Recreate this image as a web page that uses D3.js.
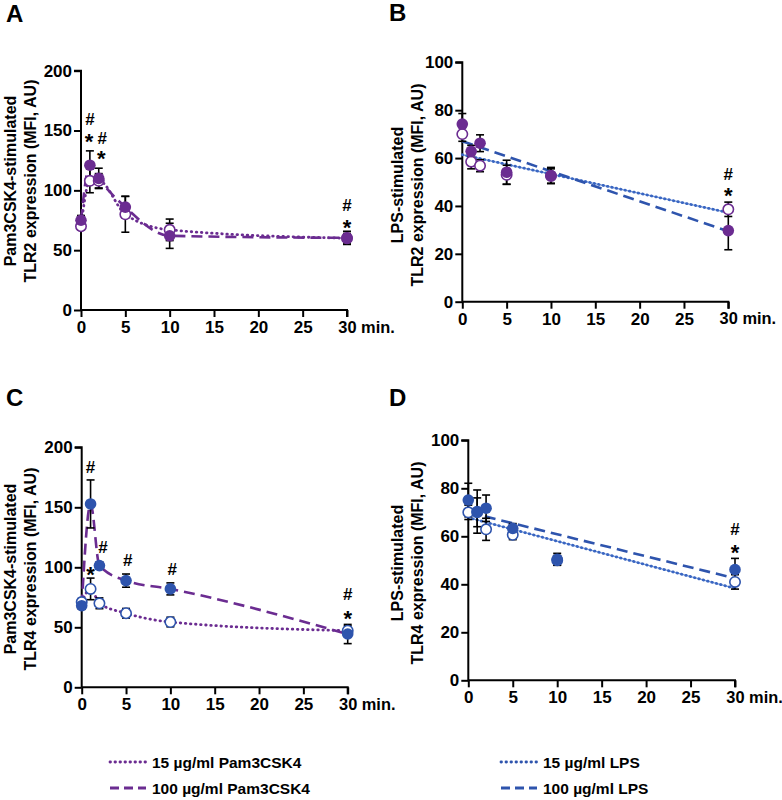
<!DOCTYPE html>
<html>
<head>
<meta charset="utf-8">
<script src="https://cdn.jsdelivr.net/npm/d3@7"></script>
<style>
  html, body { margin: 0; padding: 0; background: #fff; }
  svg { display: block; }
  text { font-family: "Liberation Sans", Arial, sans-serif; font-weight: bold; fill: #000; }
</style>
</head>
<body>
<svg id="chart" width="782" height="800"></svg>
<script>
// ---------------- DATA ----------------
const times = [0, 1, 2, 5, 10, 30];
const fitTimes = [0, 30];
const xTicks = [0, 5, 10, 15, 20, 25, 30];
const yTicksPam = [0, 50, 100, 150, 200];
const yTicksLps = [0, 20, 40, 60, 80, 100];

// A: TLR2, Pam3CSK4-stimulated
const tlr2PamLow = [70, 108, 108, 80, 67, 60];
const tlr2PamLowErr = [3, 10, 6, 15, 9, 4];
const tlr2PamHigh = [75, 121, 110, 86, 62, 60.3];
const tlr2PamHighErr = [4, 12, 8.5, 9, 10.5, 5.5];

// B: TLR2, LPS-stimulated
const tlr2LpsLow = [70, 58.5, 56.8, 53, 52.5, 38.6];
const tlr2LpsLowErr = [3, 3, 2.5, 4, 3, 3];
const tlr2LpsHigh = [74.2, 62.8, 66.2, 54.1, 52.7, 29.7];
const tlr2LpsHighErr = [4.4, 2.5, 3.5, 5, 3.4, 8];
const tlr2LpsLowFit = [61.4, 37.2];
const tlr2LpsHighFit = [67, 29.4];

// C: TLR4, Pam3CSK4-stimulated
const tlr4PamLow = [71, 82, 70, 61.7, 54.4, 47.2];
const tlr4PamLowErr = [3, 9, 4.5, 4, 4, 4];
const tlr4PamHigh = [68, 152.8, 101.4, 88.9, 82, 44.4];
const tlr4PamHighErr = [3, 20, 3, 5.5, 5, 8];

// D: TLR4, LPS-stimulated
const tlr4LpsLow = [70, 70, 62.9, 60.6, 50, 41];
const tlr4LpsLowErr = [3, 6, 4.6, 2, 2, 3];
const tlr4LpsHigh = [75.1, 70.3, 71.7, 63.3, 50.4, 46.1];
const tlr4LpsHighErr = [7, 9, 5.5, 2, 2.5, 4.7];
const tlr4LpsLowFit = [67.8, 38.3];
const tlr4LpsHighFit = [70, 42.5];

// significance marks (time, value, symbol)
const annTlr2Pam = [[1, 159.5, "#"], [0.9, 145, "*"], [2.4, 144, "#"], [2.3, 130.5, "*"], [30, 87.5, "#"], [30, 73.3, "*"]];
const annTlr2Lps = [[30, 53.3, "#"], [30, 46.4, "*"]];
const annTlr4Pam = [[1, 184, "#"], [1, 97.7, "*"], [2.4, 117, "#"], [5.2, 106, "#"], [10.2, 98.3, "#"], [30, 77.8, "#"], [30, 61.7, "*"]];
const annTlr4Lps = [[30, 62.9, "#"], [30, 55.4, "*"]];

const legendPam = ["15 µg/ml Pam3CSK4", "100 µg/ml Pam3CSK4"];
const legendLps = ["15 µg/ml LPS", "100 µg/ml LPS"];

// ---------------- STYLE ----------------
const PURPLE = "#6b2c91";
const BLUE = "#2e54ad";
const BLUE_DOT = "#3a66c2";

const svg = d3.select("#chart");

const panels = [
  { letter: "A", lx: 6, ly: 22, x0: 81, x1: 347, yTop: 70.7, yBot: 310, ymax: 200, yTicks: yTicksPam,
    title: ["Pam3CSK4-stimulated", "TLR2 expression (MFI, AU)"], tx: [10, 30], ty: 181,
    low: tlr2PamLow, lowErr: tlr2PamLowErr, high: tlr2PamHigh, highErr: tlr2PamHighErr,
    fit: false, markerColor: PURPLE, lineColor: PURPLE, ann: annTlr2Pam },
  { letter: "B", lx: 389, ly: 21, x0: 462.3, x1: 728.3, yTop: 62.3, yBot: 301.7, ymax: 100, yTicks: yTicksLps,
    title: ["LPS-stimulated", "TLR2 expression (MFI, AU)"], tx: [397, 417], ty: 185,
    low: tlr2LpsLow, lowErr: tlr2LpsLowErr, high: tlr2LpsHigh, highErr: tlr2LpsHighErr,
    fit: true, lowFit: tlr2LpsLowFit, highFit: tlr2LpsHighFit, markerColor: PURPLE, lineColor: BLUE, ann: annTlr2Lps },
  { letter: "C", lx: 6, ly: 406, x0: 81.7, x1: 347.7, yTop: 447.3, yBot: 687.3, ymax: 200, yTicks: yTicksPam,
    title: ["Pam3CSK4-stimulated", "TLR4 expression (MFI, AU)"], tx: [10, 30], ty: 569,
    low: tlr4PamLow, lowErr: tlr4PamLowErr, high: tlr4PamHigh, highErr: tlr4PamHighErr,
    fit: false, markerColor: BLUE, lineColor: PURPLE, ann: annTlr4Pam },
  { letter: "D", lx: 389, ly: 406, x0: 468.3, x1: 735, yTop: 440.3, yBot: 680.3, ymax: 100, yTicks: yTicksLps,
    title: ["LPS-stimulated", "TLR4 expression (MFI, AU)"], tx: [397, 417], ty: 563,
    low: tlr4LpsLow, lowErr: tlr4LpsLowErr, high: tlr4LpsHigh, highErr: tlr4LpsHighErr,
    fit: true, lowFit: tlr4LpsLowFit, highFit: tlr4LpsHighFit, markerColor: BLUE, lineColor: BLUE, ann: annTlr4Lps }
];

function styleDotted(sel, color, isBlue) {
  sel.attr("fill", "none").attr("stroke", color)
     .attr("stroke-width", 2.8).attr("stroke-linecap", "round")
     .attr("stroke-dasharray", isBlue ? "0.5,4" : "0.5,4.6");
}
function styleDashed(sel, color) {
  sel.attr("fill", "none").attr("stroke", color)
     .attr("stroke-width", 2.6).attr("stroke-dasharray", "11,6");
}

panels.forEach(p => {
  const x = d3.scaleLinear().domain([0, 30]).range([p.x0, p.x1]);
  const y = d3.scaleLinear().domain([0, p.ymax]).range([p.yBot, p.yTop]);
  const g = svg.append("g");

  // panel letter
  g.append("text").attr("x", p.lx).attr("y", p.ly).attr("font-size", 24).text(p.letter);

  // y title
  p.title.forEach((t, i) => {
    g.append("text")
      .attr("transform", `translate(${p.tx[i]},${p.ty}) rotate(-90)`)
      .attr("text-anchor", "middle").attr("dominant-baseline", "central")
      .attr("font-size", 16).text(t);
  });

  // axes
  const yAxis = d3.axisLeft(y).tickValues(p.yTicks).tickSize(7).tickPadding(2).tickFormat(d3.format("d"));
  const xAxis = d3.axisBottom(x).tickValues(xTicks).tickSize(7).tickPadding(4).tickFormat(d3.format("d"));
  const ya = g.append("g").attr("transform", `translate(${p.x0},0)`).call(yAxis);
  const xa = g.append("g").attr("transform", `translate(0,${p.yBot})`).call(xAxis);
  [ya, xa].forEach(a => {
    a.select(".domain").attr("stroke", "#000").attr("stroke-width", 2);
    a.selectAll(".tick line").attr("stroke", "#000").attr("stroke-width", 2);
    a.selectAll(".tick text").attr("font-size", 17).attr("font-family", "Liberation Sans, Arial, sans-serif")
      .attr("font-weight", "bold").attr("fill", "#000");
  });
  ya.select(".domain").attr("d", `M-7,${p.yTop}H0V${p.yBot}`);
  xa.select(".domain").attr("d", `M${p.x0},0H${p.x1}V7`);
  xa.selectAll(".tick").filter(d => d === 30).select("text")
    .attr("text-anchor", "start").attr("x", -9.2).attr("font-size", 16.4).text("30 min.");

  // lines
  if (p.fit) {
    const lf = d3.line().x((d, i) => x(fitTimes[i])).y(d => y(d));
    g.append("path").attr("d", lf(p.lowFit))
      .attr("fill", "none").attr("stroke", "#7fa0dc").attr("stroke-width", 1.4);
    g.append("path").attr("d", lf(p.lowFit)).call(s => styleDotted(s, BLUE_DOT, true));
    g.append("path").attr("d", lf(p.highFit)).call(s => styleDashed(s, p.lineColor));
  } else {
    const lc = d3.line().x((d, i) => x(times[i])).y(d => y(d)).curve(d3.curveMonotoneX);
    g.append("path").attr("d", lc(p.low)).call(s => styleDotted(s, p.lineColor, false));
    g.append("path").attr("d", lc(p.high)).call(s => styleDashed(s, p.lineColor));
  }

  // error bars
  const drawErr = (vals, errs) => {
    vals.forEach((v, i) => {
      const cx = x(times[i]);
      const yt = y(v + errs[i]), yb = y(v - errs[i]);
      g.append("line").attr("x1", cx).attr("x2", cx).attr("y1", yt).attr("y2", yb)
        .attr("stroke", "#000").attr("stroke-width", 1.6);
      [yt, yb].forEach(yy => g.append("line").attr("x1", cx - 4).attr("x2", cx + 4)
        .attr("y1", yy).attr("y2", yy).attr("stroke", "#000").attr("stroke-width", 1.6));
    });
  };
  drawErr(p.low, p.lowErr);
  drawErr(p.high, p.highErr);

  // markers
  g.selectAll(".open").data(p.low).enter().append("circle")
    .attr("cx", (d, i) => x(times[i])).attr("cy", d => y(d)).attr("r", 5.2)
    .attr("fill", "#fff").attr("stroke", p.markerColor).attr("stroke-width", 1.6);
  g.selectAll(".filled").data(p.high).enter().append("circle")
    .attr("cx", (d, i) => x(times[i])).attr("cy", d => y(d)).attr("r", 5.8)
    .attr("fill", p.markerColor);

  // significance annotations
  p.ann.forEach(([t, v, s]) => {
    const fs = s === "*" ? 22 : 17;
    const off = s === "*" ? 0.56 : 0.36;
    g.append("text").attr("x", x(t)).attr("y", y(v) + off * fs)
      .attr("text-anchor", "middle").attr("font-size", fs).text(s);
  });
});

// ---------------- LEGEND ----------------
const legends = [
  { items: legendPam, color: PURPLE, lx0: 110, lx1: 146, tx: 152 },
  { items: legendLps, color: BLUE, lx0: 501, lx1: 537, tx: 543 }
];
const rowY = [762, 788];
legends.forEach(L => {
  L.items.forEach((label, i) => {
    const yy = rowY[i];
    const ln = svg.append("line").attr("x1", L.lx0).attr("x2", L.lx1).attr("y1", yy).attr("y2", yy);
    if (i === 0) {
      ln.attr("stroke", L.color).attr("stroke-width", 2.8).attr("stroke-linecap", "round").attr("stroke-dasharray", "0.5,4.5");
    } else {
      ln.attr("stroke", L.color).attr("stroke-width", 2.8).attr("stroke-dasharray", "9,5");
    }
    svg.append("text").attr("x", L.tx).attr("y", yy).attr("dominant-baseline", "central")
      .attr("font-size", 15.5).text(label);
  });
});
</script>
</body>
</html>
